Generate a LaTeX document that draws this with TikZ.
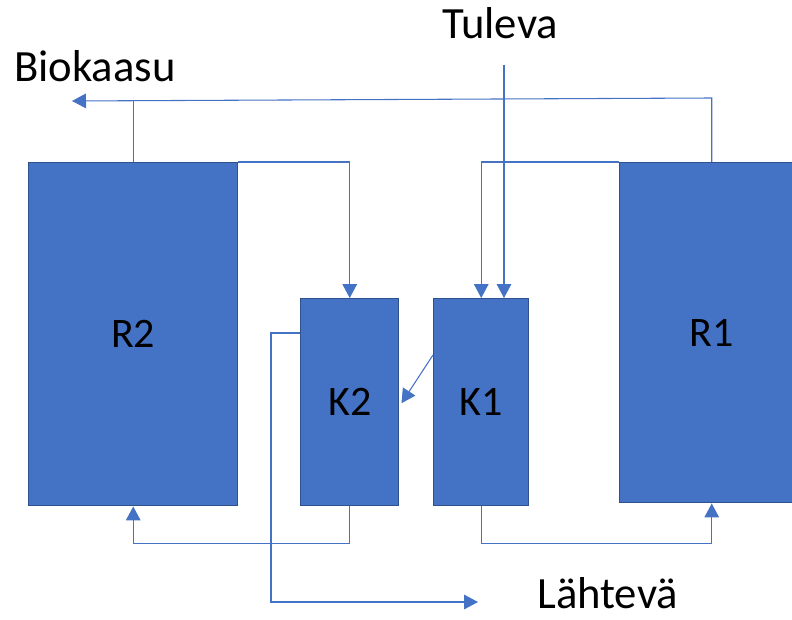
\documentclass[tikz,border=0pt]{standalone}
\usepackage{fontspec}
\setmainfont{Carlito}
\usetikzlibrary{arrows.meta,calc}
\definecolor{boxfill}{HTML}{4472C4}
\definecolor{boxedge}{HTML}{2F528F}
\definecolor{flowline}{HTML}{4472C4}
\tikzset{
  tank/.style args={#1x#2}{draw=boxedge, line width=1.1pt, fill=boxfill,
    minimum width=#1*0.75pt, minimum height=#2*0.75pt, inner sep=0pt,
    font=\fontsize{31.5}{36}\selectfont},
  flow/.style={draw=flowline, line width=0.8pt},
  flowarrow/.style={flow, -{Triangle[length=10.5pt,width=11pt]}},
  caption/.style={inner sep=0pt, font=\fontsize{33.5}{40}\selectfont}
}
\begin{document}
\begin{tikzpicture}[x=0.75pt,y=-0.75pt]
  \useasboundingbox (0,0) rectangle (792,620);
  \clip (0,0) rectangle (792,620);

  % reactors and clarifiers
  \node[tank=209x343, anchor=north west] (R2) at (28,162) {R2};
  \node[tank=98x207,  anchor=north west] (K2) at (300,298) {\raisebox{-1.5pt}{K2}};
  \node[tank=95x207,  anchor=north west] (K1) at (433,298) {\raisebox{-1.5pt}{K1}};
  \node[tank=184x340, anchor=north west] (R1) at (619,162) {\raisebox{-1.5pt}{R1}};

  % stream labels
  \node[caption, anchor=base west] (bio) at (14,82) {Biokaasu};
  \node[caption, anchor=base west] (tul) at (442,39) {Tuleva};
  \node[caption, anchor=base west] (lah) at (537,608) {Lähtevä};

  % free ends of the external streams
  \coordinate (bioEnd) at (72,101);
  \coordinate (tulIn) at (504,65);
  \coordinate (lahEnd) at (478,602);

  % biogas collection
  \draw[flowarrow] (R1.north) -- ++(0,-64) -- (bioEnd);
  \draw[flow] (R2.north) -- ++(0,-61);

  % feed into K1
  \draw[flowarrow] (tulIn) -- (tulIn |- K1.north);

  % reactor overflow to clarifiers
  \draw[flowarrow] (R1.north west) -| (K1.north);
  \draw[flowarrow] (R2.north east) -| (K2.north);

  % K1 to K2
  \draw[flowarrow] ($(K1.north west)+(0,57)$) -- ($(K2.east)+(2,1)$);

  % sludge return lines
  \draw[flowarrow] (K2.south) -- ++(0,37) -| (R2.south);
  \draw[flowarrow] (K1.south) -- ++(0,37) -| (R1.south);

  % effluent
  \draw[flowarrow] ($(K2.north west)+(0,35)$) -- ++(-29,0) |- (lahEnd);
\end{tikzpicture}
\end{document}
